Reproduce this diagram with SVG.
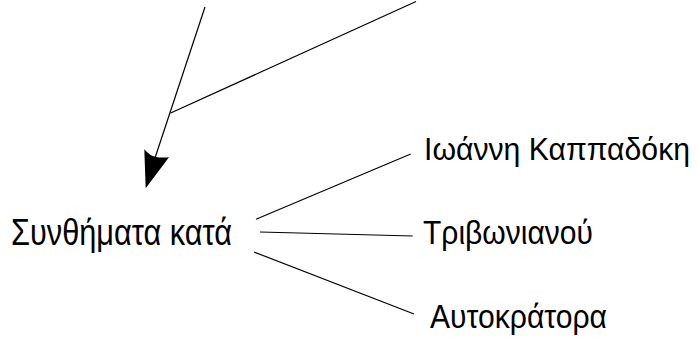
<svg xmlns="http://www.w3.org/2000/svg" width="697" height="342" viewBox="0 0 697 342">
<style>
.c{stroke:#000;stroke-width:1.2;fill:none}
.t{font-family:"Liberation Sans",Arial,sans-serif;fill:#000}
</style>
<rect width="697" height="342" fill="#fff"/>
<g id="connectors">
<line class="c" x1="205" y1="7" x2="151" y2="170"/>
<line class="c" x1="170.7" y1="113" x2="416" y2="1.5"/>
<path d="M145.7,188.3 L144.3,149.3 Q150,156 155.8,157 Q162,158 169,157.3 Z" fill="#000"/>
<line class="c" x1="256" y1="219.3" x2="410.7" y2="154"/>
<line class="c" x1="260" y1="232" x2="412.7" y2="236"/>
<line class="c" x1="254" y1="252" x2="414" y2="314"/>
</g>
<g id="node-synthimata">
<text class="t" x="11" y="245" font-size="37.5" textLength="221" lengthAdjust="spacingAndGlyphs">Συνθήματα κατά</text>
</g>
<g id="node-ioanni">
<text class="t" x="424" y="160" font-size="31" textLength="266" lengthAdjust="spacingAndGlyphs">Ιωάννη Καππαδόκη</text>
</g>
<g id="node-trivonianou">
<text class="t" x="423" y="244" font-size="34" textLength="170" lengthAdjust="spacingAndGlyphs">Τριβωνιανού</text>
</g>
<g id="node-aftokratora">
<text class="t" x="430" y="328" font-size="34" textLength="177" lengthAdjust="spacingAndGlyphs">Αυτοκράτορα</text>
</g>
</svg>
